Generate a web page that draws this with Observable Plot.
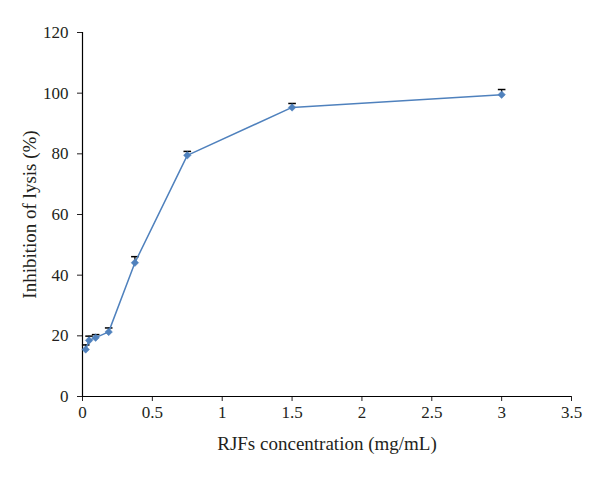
<!DOCTYPE html>
<html>
<head>
<meta charset="utf-8">
<script src="https://cdn.jsdelivr.net/npm/d3@7"></script>
<script src="https://cdn.jsdelivr.net/npm/@observablehq/plot@0.6"></script>
<style>
  html, body { margin: 0; padding: 0; background: #fff; }
</style>
</head>
<body>
<div id="chart"></div>
<script>
const concentration = [0.023, 0.047, 0.094, 0.1875, 0.375, 0.75, 1.5, 3.0];
const inhibition = [15.5, 18.5, 19.4, 21.3, 44.1, 79.5, 95.3, 99.5];
const errorUp = [1.5, 1.4, 1.0, 1.3, 2.0, 1.3, 1.3, 1.7];
const xTicks = [0, 0.5, 1, 1.5, 2, 2.5, 3, 3.5];
const yTicks = [0, 20, 40, 60, 80, 100, 120];

const data = concentration.map((c, i) => ({x: c, y: inhibition[i], e: errorUp[i]}));
const capSymbol = {
  draw(ctx, size) {
    const r = Math.sqrt(size / Math.PI);
    ctx.moveTo(-r, 0);
    ctx.lineTo(r, 0);
  }
};
const blue = "#4F81BD";
const font = "'Liberation Serif', serif";

const chart = Plot.plot({
  width: 600,
  height: 478,
  marginLeft: 82,
  marginRight: 29,
  marginTop: 32,
  marginBottom: 82,
  style: {fontFamily: font, fontSize: "18px", color: "#231f20", background: "#fff"},
  x: {domain: [0, 3.5]},
  y: {domain: [0, 120]},
  marks: [
    Plot.axisX({ticks: xTicks, tickSize: 5, tickPadding: 4, fontSize: 17, tickFormat: d => String(d), label: null}),
    Plot.axisX({ticks: [], label: "RJFs concentration (mg/mL)", labelAnchor: "center", labelArrow: "none", labelOffset: 53, fontSize: 19}),
    Plot.axisY({ticks: yTicks, tickSize: 5, tickPadding: 9, fontSize: 17, tickFormat: d => String(d), label: null}),
    Plot.axisY({ticks: [], label: "Inhibition of lysis (%)", labelAnchor: "center", labelArrow: "none", labelOffset: 60, fontSize: 19}),
    Plot.ruleX([0], {stroke: "#000", strokeWidth: 1.2}),
    Plot.ruleY([0], {stroke: "#000", strokeWidth: 1.2}),
    Plot.ruleX(data, {x: "x", y1: "y", y2: d => d.y + d.e, stroke: "#000", strokeWidth: 1.2}),
    Plot.dot(data, {x: "x", y: d => d.y + d.e, symbol: capSymbol, r: 3.8, stroke: "#000", strokeWidth: 1.5, fill: "none"}),
    Plot.line(data, {x: "x", y: "y", stroke: blue, strokeWidth: 1.5}),
    Plot.dot(data, {x: "x", y: "y", symbol: "square", rotate: 45, r: 3.0, fill: blue, stroke: blue, strokeWidth: 0.5})
  ]
});
document.getElementById("chart").appendChild(chart);
</script>
</body>
</html>
